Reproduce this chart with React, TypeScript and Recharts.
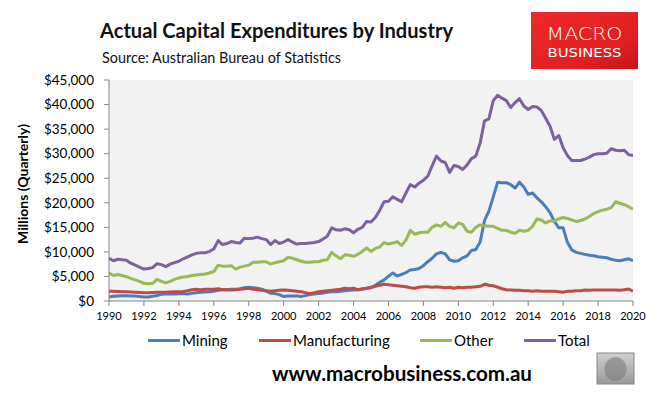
import React from 'react';
import { LineChart, Line, XAxis, YAxis, CartesianGrid, Legend } from 'recharts';

const startYear = 1990;

const total = [
  8700, 8200, 8500, 8400,
  8300, 7700, 7300, 6900,
  6500, 6600, 6800, 7600,
  7400, 7000, 7500, 7800,
  8100, 8600, 9000, 9400,
  9700, 9800, 9800, 10100,
  10600, 12300, 11500, 11700,
  12100, 11900, 11800, 12800,
  12700, 12800, 13000, 12700,
  12500, 11500, 12300, 11700,
  12000, 12500, 12000, 11600,
  11700, 11700, 11800, 11900,
  12100, 12600, 13200, 14900,
  14500, 14400, 14700, 14500,
  13900, 14600, 15000, 16200,
  16100, 17000, 18500, 20200,
  20300, 21200, 20700, 20200,
  22000, 23700, 23200, 24000,
  24600, 25400, 27500, 29500,
  28500, 28200, 26200, 27600,
  27400, 26800, 27700, 29000,
  29500, 32200, 36700, 37100,
  40800, 41900, 41300, 40800,
  39400, 40400, 41200, 39700,
  39000, 39600, 39500, 38800,
  37200, 35600, 32900, 33700,
  31200, 29600, 28600, 28600,
  28600, 28900, 29300, 29800,
  30000, 30000, 30100, 31000,
  30700, 30600, 30700, 29800,
  29600,
];

const mining = [
  800, 950, 1000, 1050,
  1050, 1000, 1000, 900,
  800, 800, 950, 1100,
  1350, 1400, 1400, 1450,
  1500, 1500, 1400, 1600,
  1700, 1800, 1850, 1900,
  2000, 2200, 2300, 2300,
  2400, 2400, 2500, 2700,
  2800, 2700, 2600, 2400,
  2000, 1600, 1500, 1300,
  900, 1000, 1000, 1000,
  900, 1100, 1300, 1400,
  1500, 1600, 1800, 1900,
  1900, 2000, 2100, 2200,
  2250, 2300, 2400, 2600,
  2700, 3200, 3800, 4300,
  5000, 5700, 5100, 5400,
  5800, 6300, 6400, 6600,
  7200, 8000, 8700, 9600,
  9900, 9600, 8400, 8100,
  8200, 8800, 9200, 10300,
  10500, 12000, 16400, 18300,
  21200, 24200, 24100, 24100,
  23700, 23000, 24200, 23200,
  21700, 22000, 21000, 20200,
  19200, 18000, 16200, 14900,
  14900, 11900, 10400, 9900,
  9700, 9500, 9300, 9200,
  9000, 8900, 8800, 8500,
  8300, 8200, 8400, 8600,
  8200,
];

const other = [
  5700, 5200, 5400, 5200,
  4950, 4600, 4300, 4000,
  3600, 3500, 3600, 4400,
  4000, 3700, 4000, 4400,
  4700, 4900, 5000, 5200,
  5300, 5400, 5500, 5700,
  6000, 7300, 7100, 7100,
  7200, 6500, 6900, 7100,
  7300, 7900, 7900, 8000,
  8000, 7500, 7800, 8000,
  8200, 8900, 8700, 8400,
  8100, 7900, 7900, 8000,
  8000, 8300, 8400, 9900,
  9200, 8600, 9400, 9300,
  9100, 9500, 10100, 10800,
  10100, 10700, 11000, 11900,
  11600, 11800, 12100, 11300,
  12400, 14400, 13600, 13900,
  14000, 14000, 15000, 15500,
  15200, 16000, 15200, 14900,
  15900, 15600, 14200, 14000,
  15000, 15500, 15300, 15200,
  15200, 14800, 14400, 14400,
  14000, 13800, 14400, 14200,
  14400, 15200, 16700, 16500,
  15900, 16300, 16300, 16700,
  17000, 16800, 16500, 16200,
  16400, 16700, 17200, 17800,
  18200, 18500, 18700, 19000,
  20200, 19900, 19600, 19200,
  18700,
];

const manufacturing = [
  2000, 2000, 1950, 1900,
  1900, 1850, 1800, 1750,
  1700, 1700, 1750, 1800,
  1800, 1800, 1850, 1900,
  1900, 1950, 2100, 2300,
  2400, 2300, 2400, 2400,
  2400, 2500, 2300, 2300,
  2250, 2300, 2400, 2500,
  2600, 2400, 2300, 2200,
  2100, 2000, 2100, 2200,
  2250, 2200, 2100, 2000,
  1900, 1700, 1500, 1700,
  1900, 2000, 2100, 2200,
  2300, 2400, 2600, 2500,
  2600, 2300, 2500, 2600,
  2800, 3000, 3200, 3400,
  3300, 3200, 3100, 3000,
  2900, 2700, 2600, 2800,
  2900, 2900, 2800, 2900,
  2800, 2700, 2800, 2600,
  2800, 2700, 2800, 2800,
  2900, 3000, 3400, 3200,
  3100, 2800, 2500, 2300,
  2250, 2200, 2200, 2100,
  2100, 2000, 2100, 2000,
  2000, 2000, 2000, 1900,
  1800, 2000, 2000, 2100,
  2100, 2250, 2200, 2250,
  2250, 2250, 2250, 2250,
  2250, 2200, 2300, 2450,
  2000,
];

const xTicks = [1990, 1992, 1994, 1996, 1998, 2000, 2002, 2004, 2006, 2008, 2010, 2012, 2014, 2016, 2018, 2020];
const yTicks = [0, 5000, 10000, 15000, 20000, 25000, 30000, 35000, 40000, 45000];

const seriesNames = ['Mining', 'Manufacturing', 'Other', 'Total'];
const seriesKeys = ['mining', 'manufacturing', 'other', 'total'];
const seriesColors = ['#4a7ebb', '#be4b48', '#98b954', '#7d60a0'];
const legendLeft = [148, 259, 420, 524];

const quarters = total.map((_, i) => startYear + i / 4);
const data = quarters.map((t, i) => ({
  t,
  mining: mining[i],
  manufacturing: manufacturing[i],
  other: other[i],
  total: total[i],
}));

const FONT = 'Lato, "Open Sans", sans-serif';

const fmtY = (v: number) => '$' + v.toLocaleString('en-US');

function LegendContent() {
  return (
    <div style={{ position: 'relative', width: 660, height: 24, fontFamily: FONT, fontSize: 15, color: '#000' }}>
      {seriesNames.map((name, i) => (
        <div
          key={name}
          style={{ position: 'absolute', left: legendLeft[i], top: 0, height: 24, display: 'flex', alignItems: 'center', whiteSpace: 'nowrap' }}
        >
          <span style={{ display: 'inline-block', width: 32, height: 3, background: seriesColors[i], marginRight: 2 }} />
          <span>{name}</span>
        </div>
      ))}
    </div>
  );
}

function YLabel() {
  return (
    <text
      x={22}
      y={184}
      transform="rotate(-90 22 184)"
      textAnchor="middle"
      dominantBaseline="central"
      fontFamily={FONT}
      fontWeight={700}
      fontSize={14}
      fill="#000"
    >
      Millions (Quarterly)
    </text>
  );
}

export default function App() {
  return (
    <div style={{ position: 'absolute', left: 0, top: 0, width: 660, height: 398, background: '#fff', overflow: 'hidden' }}>
      <LineChart width={660} height={398} data={data} margin={{ top: 80, right: 27, left: 0, bottom: 46 }}>
        <CartesianGrid horizontal={false} vertical={false} fill="#f2f2f2" />
        <XAxis
          dataKey="t"
          type="number"
          domain={[1990, 2020]}
          ticks={xTicks}
          interval={0}
          height={27}
          stroke="#868686"
          tickLine={{ stroke: '#868686' }}
          tickSize={5}
          tickMargin={6}
          tick={{ fill: '#000', fontSize: 11, fontFamily: FONT }}
          allowDataOverflow
        />
        <YAxis
          type="number"
          domain={[0, 45000]}
          ticks={yTicks}
          interval={0}
          width={109}
          stroke="#868686"
          tickLine={{ stroke: '#868686' }}
          tickSize={5}
          tickMargin={10}
          tickFormatter={fmtY}
          tick={{ fill: '#000', fontSize: 13.5, fontFamily: FONT }}
          label={<YLabel />}
        />
        <Legend verticalAlign="bottom" height={24} content={<LegendContent />} wrapperStyle={{ left: 0, width: 660 }} />
        {seriesKeys.map((k, i) => (
          <Line
            key={k}
            type="linear"
            dataKey={k}
            name={seriesNames[i]}
            stroke={seriesColors[i]}
            strokeWidth={3}
            dot={false}
            isAnimationActive={false}
            strokeLinejoin="round"
          />
        ))}
      </LineChart>
      <svg width={660} height={398} style={{ position: 'absolute', left: 0, top: 0, pointerEvents: 'none' }}>
        <defs>
          <linearGradient id="logoGrad" x1="0" y1="0" x2="1" y2="1">
            <stop offset="0%" stopColor="#f0282a" />
            <stop offset="70%" stopColor="#e01f22" />
            <stop offset="100%" stopColor="#c4141a" />
          </linearGradient>
          <linearGradient id="wolfGrad" x1="0" y1="0" x2="0" y2="1">
            <stop offset="0%" stopColor="#cfcfcf" />
            <stop offset="100%" stopColor="#9a9a9a" />
          </linearGradient>
        </defs>
        <text x={100} y={38} fontFamily={FONT} fontWeight={700} fontSize={20} fill="#111" textLength={353} lengthAdjust="spacingAndGlyphs">
          Actual Capital Expenditures by Industry
        </text>
        <text x={102} y={63} fontFamily={FONT} fontSize={14.5} fill="#111" textLength={239} lengthAdjust="spacingAndGlyphs">
          Source: Australian Bureau of Statistics
        </text>
        <rect x={531} y={12} width={107} height={57} fill="url(#logoGrad)" />
        <text x={584.5} y={40} textAnchor="middle" fontFamily={'"DejaVu Sans", sans-serif'} fontWeight={300} fontSize={17} fill="#fff" textLength={76} lengthAdjust="spacingAndGlyphs">
          MACRO
        </text>
        <text x={584.5} y={57} textAnchor="middle" fontFamily={'"DejaVu Sans", sans-serif'} fontSize={11.5} fill="#fff" textLength={74} lengthAdjust="spacingAndGlyphs">
          BUSINESS
        </text>
        <text x={272} y={381} fontFamily={FONT} fontWeight={700} fontSize={20} fill="#000" textLength={260} lengthAdjust="spacingAndGlyphs">
          www.macrobusiness.com.au
        </text>
        <rect x={597} y={353} width={37} height={31} fill="url(#wolfGrad)" stroke="#888" strokeWidth={1} />
        <ellipse cx={615.5} cy={369} rx={11} ry={12} fill="#777" opacity={0.55} />
      </svg>
    </div>
  );
}
